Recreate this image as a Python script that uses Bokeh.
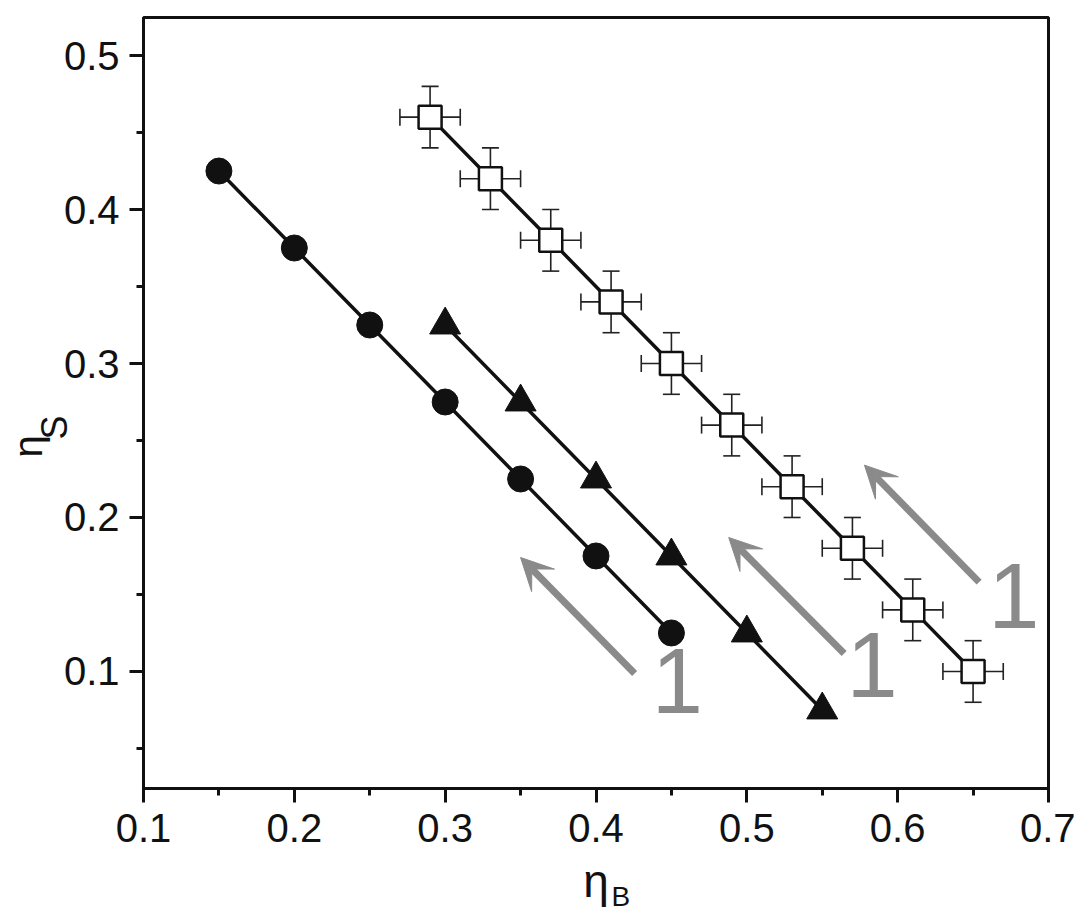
from bokeh.plotting import figure
from bokeh.models import (ColumnDataSource, FixedTicker, Whisker, TeeHead,
                          Arrow, VeeHead, Title)
from bokeh.core.properties import value
from bokeh.embed import file_html
from bokeh.resources import INLINE

# ---- data ----
circ_x = [0.15, 0.20, 0.25, 0.30, 0.35, 0.40, 0.45]
circ_y = [0.425, 0.375, 0.325, 0.275, 0.225, 0.175, 0.125]

tri_x = [0.30, 0.35, 0.40, 0.45, 0.50, 0.55]
tri_y = [0.325, 0.275, 0.225, 0.175, 0.125, 0.075]

sq_x = [0.29, 0.33, 0.37, 0.41, 0.45, 0.49, 0.53, 0.57, 0.61, 0.65]
sq_y = [0.46, 0.42, 0.38, 0.34, 0.30, 0.26, 0.22, 0.18, 0.14, 0.10]
sq_xerr = [0.02] * 10
sq_yerr = [0.02] * 10

# gray slope arrows and their "1" labels
arr_x0 = [0.4256, 0.5645, 0.654]
arr_y0 = [0.0987, 0.1117, 0.158]
arr_x1 = [0.350, 0.488, 0.578]
arr_y1 = [0.174, 0.187, 0.234]
one_x = [0.454, 0.583, 0.677]
one_y = [0.094, 0.104, 0.149]
one_text = ["1", "1", "1"]

x_major = [0.1, 0.2, 0.3, 0.4, 0.5, 0.6, 0.7]
x_minor = [0.15, 0.25, 0.35, 0.45, 0.55, 0.65]
y_major = [0.1, 0.2, 0.3, 0.4, 0.5]
y_minor = [0.05, 0.15, 0.25, 0.35, 0.45]

FONT = "Liberation Sans"
INK = "#111111"
GRAY = "#8a8a8a"

p = figure(width=1075, height=912, x_range=(0.1, 0.7), y_range=(0.024, 0.5247),
           output_backend="svg", toolbar_location=None,
           min_border_left=143, min_border_right=27,
           min_border_top=17, min_border_bottom=124)
p.grid.visible = False
p.outline_line_color = INK
p.outline_line_width = 3

for ax, major, minor in ((p.xaxis[0], x_major, x_minor), (p.yaxis[0], y_major, y_minor)):
    ax.ticker = FixedTicker(ticks=major, minor_ticks=minor)
    ax.axis_line_width = 3
    ax.axis_line_color = INK
    ax.major_tick_line_width = 3
    ax.minor_tick_line_width = 3
    ax.major_tick_line_color = INK
    ax.minor_tick_line_color = INK
    ax.major_tick_in = 0
    ax.major_tick_out = 14
    ax.minor_tick_in = 0
    ax.minor_tick_out = 7
    ax.major_label_text_font = FONT
    ax.major_label_text_font_size = "40px"
    ax.major_label_text_color = INK
    ax.major_label_overrides = {t: f"{t:.1f}" for t in major}
p.xaxis.major_label_standoff = 11
p.yaxis.major_label_standoff = 10

# squares with error bars
sq_src = ColumnDataSource(dict(
    x=sq_x, y=sq_y,
    xl=[a - e for a, e in zip(sq_x, sq_xerr)], xu=[a + e for a, e in zip(sq_x, sq_xerr)],
    yl=[a - e for a, e in zip(sq_y, sq_yerr)], yu=[a + e for a, e in zip(sq_y, sq_yerr)],
))
for dim, base, lo, up in (("width", "y", "xl", "xu"), ("height", "x", "yl", "yu")):
    w = Whisker(source=sq_src, base=base, lower=lo, upper=up, dimension=dim,
                line_color="#222222", line_width=1.6, level="underlay",
                lower_head=TeeHead(size=17, line_color="#222222", line_width=1.6),
                upper_head=TeeHead(size=17, line_color="#222222", line_width=1.6))
    p.add_layout(w)
p.line("x", "y", source=sq_src, line_color=INK, line_width=3.5)
p.scatter("x", "y", source=sq_src, marker="square", size=23,
          fill_color="white", line_color=INK, line_width=2.5)

# circles
p.line(circ_x, circ_y, line_color=INK, line_width=3.5)
p.scatter(circ_x, circ_y, marker="circle", size=26, fill_color=INK, line_color=INK)

# triangles
p.line(tri_x, tri_y, line_color=INK, line_width=3.5)
p.scatter(tri_x, tri_y, marker="triangle", size=31, fill_color=INK, line_color=INK)

# gray arrows
arr_src = ColumnDataSource(dict(x0=arr_x0, y0=arr_y0, x1=arr_x1, y1=arr_y1))
p.add_layout(Arrow(source=arr_src, x_start="x0", y_start="y0", x_end="x1", y_end="y1",
                   line_color=GRAY, line_width=7,
                   end=VeeHead(size=32, fill_color=GRAY, line_color=GRAY, line_width=1)))
p.text(one_x, one_y, text=one_text, text_font=value(FONT), text_font_size="92px",
       text_color=GRAY, text_align="center", text_baseline="alphabetic")

# axis titles: eta with subscripts, as side-panel titles
def side_title(text, size, align, offset, standoff, valign="middle"):
    return Title(text=text, text_font=FONT, text_font_size=size, text_color=INK,
                 text_font_style="normal", align=align, offset=offset,
                 vertical_align=valign, standoff=standoff)

p.add_layout(side_title("η", "46px", "center", 0, -125, "bottom"), "below")
p.add_layout(side_title("B", "28px", "left", 468, -135, "bottom"), "below")
p.add_layout(side_title("S", "36px", "left", 349, -29.9), "left")
p.add_layout(side_title("η", "40px", "left", 331, -6.6), "left")

open("out.html", "w").write(file_html(p, INLINE))
